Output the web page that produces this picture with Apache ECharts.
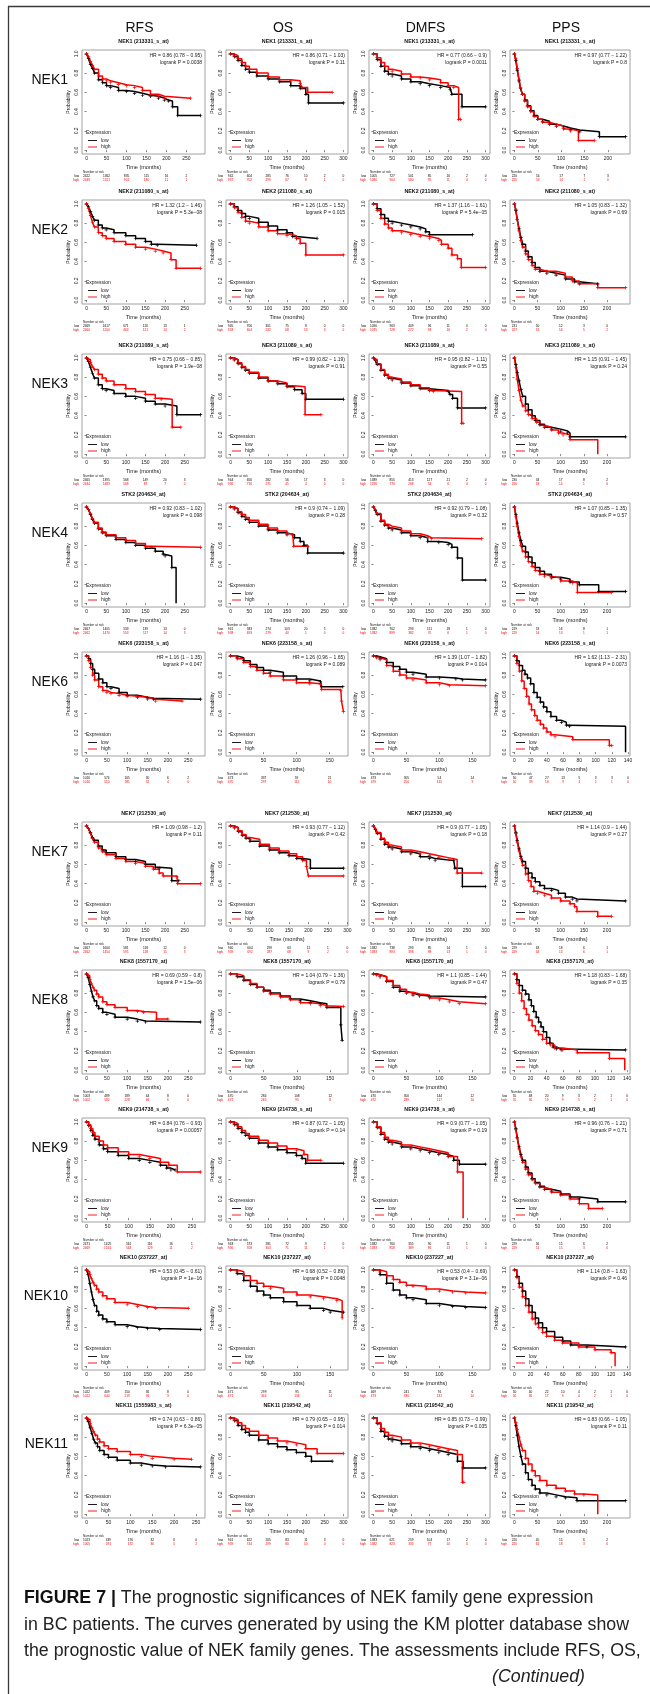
<!DOCTYPE html>
<html>
<head>
<meta charset="utf-8">
<style>
  html, body { margin: 0; padding: 0; background: #fff; }
  #main { width: 650px; height: 1694px; }
</style>
<script src="https://cdn.jsdelivr.net/npm/echarts@6/dist/echarts.min.js"></script>
</head>
<body>
<div id="main"></div>
<script>
// ---- labels ----
const genes = ['NEK1', 'NEK2', 'NEK3', 'NEK4', 'NEK6', 'NEK7', 'NEK8', 'NEK9', 'NEK10', 'NEK11'];
const endpoints = ['RFS', 'OS', 'DMFS', 'PPS'];
const probes = [
  ['NEK1 (213331_s_at)', 'NEK1 (213331_s_at)', 'NEK1 (213331_s_at)', 'NEK1 (213331_s_at)'],
  ['NEK2 (211080_s_at)', 'NEK2 (211080_s_at)', 'NEK2 (211080_s_at)', 'NEK2 (211080_s_at)'],
  ['NEK3 (211089_s_at)', 'NEK3 (211089_s_at)', 'NEK3 (211089_s_at)', 'NEK3 (211089_s_at)'],
  ['STK2 (204634_at)', 'STK2 (204634_at)', 'STK2 (204634_at)', 'STK2 (204634_at)'],
  ['NEK6 (223158_s_at)', 'NEK6 (223158_s_at)', 'NEK6 (223158_s_at)', 'NEK6 (223158_s_at)'],
  ['NEK7 (212530_at)', 'NEK7 (212530_at)', 'NEK7 (212530_at)', 'NEK7 (212530_at)'],
  ['NEK8 (1557170_at)', 'NEK8 (1557170_at)', 'NEK8 (1557170_at)', 'NEK8 (1557170_at)'],
  ['NEK9 (214738_s_at)', 'NEK9 (214738_s_at)', 'NEK9 (214738_s_at)', 'NEK9 (214738_s_at)'],
  ['NEK10 (237227_at)', 'NEK10 (237227_at)', 'NEK10 (237227_at)', 'NEK10 (237227_at)'],
  ['NEK11 (1555983_s_at)', 'NEK11 (219542_at)', 'NEK11 (219542_at)', 'NEK11 (219542_at)']
];
const hrTexts = [
  ['HR = 0.86 (0.78 \u2212 0.95)', 'HR = 0.86 (0.71 \u2212 1.03)', 'HR = 0.77 (0.66 \u2212 0.9)', 'HR = 0.97 (0.77 \u2212 1.22)'],
  ['HR = 1.32 (1.2 \u2212 1.46)', 'HR = 1.26 (1.05 \u2212 1.52)', 'HR = 1.37 (1.16 \u2212 1.61)', 'HR = 1.05 (0.83 \u2212 1.32)'],
  ['HR = 0.75 (0.66 \u2212 0.85)', 'HR = 0.99 (0.82 \u2212 1.19)', 'HR = 0.95 (0.82 \u2212 1.11)', 'HR = 1.15 (0.91 \u2212 1.45)'],
  ['HR = 0.92 (0.83 \u2212 1.02)', 'HR = 0.9 (0.74 \u2212 1.09)', 'HR = 0.92 (0.79 \u2212 1.08)', 'HR = 1.07 (0.85 \u2212 1.35)'],
  ['HR = 1.16 (1 \u2212 1.35)', 'HR = 1.26 (0.96 \u2212 1.65)', 'HR = 1.39 (1.07 \u2212 1.82)', 'HR = 1.62 (1.13 \u2212 2.31)'],
  ['HR = 1.09 (0.98 \u2212 1.2)', 'HR = 0.93 (0.77 \u2212 1.12)', 'HR = 0.9 (0.77 \u2212 1.05)', 'HR = 1.14 (0.9 \u2212 1.44)'],
  ['HR = 0.69 (0.59 \u2212 0.8)', 'HR = 1.04 (0.79 \u2212 1.36)', 'HR = 1.1 (0.85 \u2212 1.44)', 'HR = 1.18 (0.83 \u2212 1.68)'],
  ['HR = 0.84 (0.76 \u2212 0.93)', 'HR = 0.87 (0.72 \u2212 1.05)', 'HR = 0.9 (0.77 \u2212 1.05)', 'HR = 0.96 (0.76 \u2212 1.21)'],
  ['HR = 0.53 (0.45 \u2212 0.61)', 'HR = 0.68 (0.52 \u2212 0.89)', 'HR = 0.53 (0.4 \u2212 0.69)', 'HR = 1.14 (0.8 \u2212 1.63)'],
  ['HR = 0.74 (0.63 \u2212 0.86)', 'HR = 0.79 (0.65 \u2212 0.95)', 'HR = 0.85 (0.73 \u2212 0.99)', 'HR = 0.83 (0.66 \u2212 1.05)']
];
const pTexts = [
  ['logrank P = 0.0038', 'logrank P = 0.11', 'logrank P = 0.0011', 'logrank P = 0.8'],
  ['logrank P = 5.3e\u221208', 'logrank P = 0.015', 'logrank P = 5.4e\u221205', 'logrank P = 0.69'],
  ['logrank P = 1.9e\u221208', 'logrank P = 0.91', 'logrank P = 0.55', 'logrank P = 0.24'],
  ['logrank P = 0.098', 'logrank P = 0.28', 'logrank P = 0.32', 'logrank P = 0.57'],
  ['logrank P = 0.047', 'logrank P = 0.089', 'logrank P = 0.014', 'logrank P = 0.0073'],
  ['logrank P = 0.11', 'logrank P = 0.42', 'logrank P = 0.18', 'logrank P = 0.27'],
  ['logrank P = 1.5e\u221206', 'logrank P = 0.79', 'logrank P = 0.47', 'logrank P = 0.35'],
  ['logrank P = 0.00057', 'logrank P = 0.14', 'logrank P = 0.19', 'logrank P = 0.71'],
  ['logrank P = 1e\u221216', 'logrank P = 0.0048', 'logrank P = 3.1e\u221206', 'logrank P = 0.46'],
  ['logrank P = 6.3e\u221205', 'logrank P = 0.014', 'logrank P = 0.035', 'logrank P = 0.11']
];

// ---- x tick sets ----
const t250 = [0, 50, 100, 150, 200, 250];
const t300 = [0, 50, 100, 150, 200, 250, 300];
const t200 = [0, 50, 100, 150, 200];
const t150 = [0, 50, 100, 150];
const t140 = [0, 20, 40, 60, 80, 100, 120, 140];
const yTicks = [0, 0.2, 0.4, 0.6, 0.8, 1.0];
const xTickSets = [
  [t250, t300, t300, t200], [t250, t300, t300, t200], [t250, t300, t300, t200], [t250, t300, t300, t200],
  [t250, t150, t150, t140], [t250, t300, t300, t200], [t250, t150, t150, t140], [t250, t300, t300, t200],
  [t250, t150, t150, t140], [t250, t300, t300, t200]
];

// ---- survival curves [months, probability] ----
// NEK1
const n1RfsLo = [[0,1],[5,0.95],[10,0.89],[15,0.85],[20,0.80],[30,0.73],[40,0.70],[50,0.67],[60,0.65],[80,0.62],[100,0.61],[120,0.59],[140,0.57],[160,0.56],[180,0.54],[195,0.52],[205,0.51],[215,0.45],[228,0.36],[285,0.36]];
const n1RfsHi = [[0,1],[5,0.97],[10,0.92],[15,0.88],[20,0.84],[30,0.77],[40,0.74],[50,0.72],[60,0.70],[80,0.68],[100,0.67],[120,0.65],[140,0.62],[160,0.58],[180,0.56],[195,0.54],[260,0.54]];
const n1OsLo = [[0,1],[10,0.97],[20,0.93],[30,0.88],[40,0.84],[50,0.81],[70,0.77],[100,0.74],[130,0.71],[160,0.67],[185,0.64],[200,0.58],[207,0.49],[300,0.49]];
const n1OsHi = [[0,1],[10,0.98],[20,0.95],[30,0.91],[40,0.87],[50,0.84],[70,0.80],[100,0.76],[130,0.73],[160,0.72],[185,0.69],[190,0.65],[205,0.60],[270,0.60]];
const n1DmLo = [[0,1],[10,0.94],[20,0.87],[30,0.82],[40,0.79],[50,0.77],[75,0.74],[100,0.71],[125,0.69],[150,0.67],[180,0.65],[205,0.63],[210,0.58],[237,0.45],[300,0.45]];
const n1DmHi = [[0,1],[10,0.96],[20,0.91],[30,0.87],[40,0.84],[50,0.82],[75,0.79],[100,0.76],[125,0.75],[150,0.73],[180,0.70],[200,0.67],[215,0.65],[228,0.32],[233,0.32]];
const n1PpLo = [[0,1],[3,0.93],[6,0.83],[10,0.72],[13,0.64],[17,0.58],[22,0.52],[28,0.46],[35,0.41],[42,0.36],[50,0.32],[60,0.30],[75,0.27],[90,0.25],[105,0.23],[120,0.21],[140,0.19],[182,0.14],[238,0.14]];
const n1PpHi = [[0,1],[3,0.95],[6,0.85],[10,0.73],[13,0.65],[17,0.58],[22,0.51],[28,0.45],[35,0.40],[42,0.35],[50,0.32],[60,0.29],[75,0.27],[90,0.25],[105,0.22],[120,0.20],[137,0.10],[172,0.10]];
// NEK2
const n2RfsLo = [[0,1],[5,0.97],[10,0.92],[15,0.87],[20,0.83],[30,0.78],[40,0.75],[50,0.73],[70,0.70],[100,0.67],[125,0.64],[150,0.61],[165,0.58],[180,0.57],[280,0.57]];
const n2RfsHi = [[0,1],[5,0.95],[10,0.88],[15,0.81],[20,0.76],[30,0.70],[40,0.67],[50,0.64],[70,0.61],[100,0.58],[125,0.55],[150,0.53],[175,0.51],[195,0.49],[215,0.42],[228,0.33],[290,0.33]];
const n2OsLo = [[0,1],[10,0.97],[20,0.93],[30,0.90],[40,0.87],[50,0.85],[75,0.81],[100,0.77],[125,0.73],[150,0.70],[165,0.66],[175,0.64],[230,0.64]];
const n2OsHi = [[0,1],[10,0.96],[20,0.91],[30,0.86],[40,0.82],[50,0.80],[75,0.76],[100,0.72],[125,0.69],[150,0.67],[175,0.64],[185,0.59],[200,0.47],[300,0.47]];
const n2DmLo = [[0,1],[10,0.95],[20,0.89],[30,0.85],[40,0.82],[50,0.80],[75,0.78],[100,0.76],[125,0.74],[140,0.71],[150,0.68],[265,0.68]];
const n2DmHi = [[0,1],[10,0.93],[20,0.85],[30,0.79],[40,0.75],[50,0.72],[75,0.70],[100,0.68],[125,0.66],[150,0.64],[175,0.62],[182,0.58],[200,0.54],[210,0.47],[225,0.43],[235,0.34],[300,0.34]];
const n2PpLo = [[0,1],[3,0.93],[6,0.84],[10,0.74],[14,0.65],[18,0.58],[24,0.51],[30,0.45],[38,0.39],[45,0.34],[55,0.30],[70,0.28],[90,0.26],[110,0.22],[130,0.19],[140,0.17],[180,0.17]];
const n2PpHi = [[0,1],[3,0.94],[6,0.84],[10,0.72],[14,0.62],[18,0.55],[24,0.48],[30,0.42],[38,0.36],[45,0.32],[55,0.30],[70,0.30],[90,0.28],[110,0.24],[125,0.20],[140,0.17],[180,0.13],[240,0.13]];
// NEK3
const n3RfsLo = [[0,1],[5,0.96],[10,0.90],[15,0.84],[20,0.79],[30,0.72],[40,0.68],[50,0.66],[70,0.63],[100,0.60],[125,0.58],[150,0.55],[175,0.52],[200,0.50],[230,0.41],[290,0.41]];
const n3RfsHi = [[0,1],[5,0.98],[10,0.95],[15,0.91],[20,0.88],[30,0.83],[40,0.79],[50,0.76],[70,0.72],[100,0.68],[125,0.65],[150,0.62],[175,0.58],[190,0.57],[218,0.28],[240,0.28]];
const n3OsLo = [[0,1],[10,0.98],[20,0.94],[30,0.90],[40,0.87],[50,0.84],[75,0.79],[100,0.76],[125,0.73],[150,0.70],[170,0.67],[190,0.63],[200,0.57],[300,0.57]];
const n3OsHi = [[0,1],[10,0.98],[20,0.95],[30,0.91],[40,0.88],[50,0.85],[75,0.80],[100,0.76],[125,0.74],[150,0.71],[170,0.70],[198,0.41],[240,0.41]];
const n3DmLo = [[0,1],[5,0.97],[10,0.93],[20,0.87],[30,0.82],[40,0.79],[50,0.77],[75,0.74],[100,0.71],[125,0.68],[150,0.66],[200,0.65],[205,0.62],[212,0.58],[225,0.48],[300,0.48]];
const n3DmHi = [[0,1],[5,0.98],[10,0.94],[20,0.88],[30,0.83],[40,0.80],[50,0.78],[75,0.75],[100,0.72],[125,0.69],[150,0.66],[160,0.65],[236,0.32],[240,0.32]];
const n3PpLo = [[0,1],[3,0.93],[6,0.85],[10,0.76],[14,0.67],[18,0.60],[24,0.52],[30,0.46],[38,0.40],[45,0.35],[55,0.31],[65,0.28],[80,0.26],[100,0.24],[115,0.22],[120,0.18],[240,0.18]];
const n3PpHi = [[0,1],[3,0.90],[6,0.78],[10,0.66],[14,0.56],[18,0.50],[24,0.45],[30,0.41],[38,0.37],[48,0.33],[55,0.30],[65,0.28],[80,0.25],[95,0.22],[105,0.20],[120,0.15],[180,0]];
// NEK4 (STK2)
const n4RfsLo = [[0,1],[5,0.97],[10,0.92],[15,0.87],[20,0.83],[30,0.77],[40,0.73],[50,0.70],[75,0.66],[100,0.63],[125,0.60],[150,0.57],[175,0.54],[195,0.51],[200,0.49],[217,0.37],[228,0]];
const n4RfsHi = [[0,1],[5,0.97],[10,0.93],[15,0.88],[20,0.84],[30,0.78],[40,0.74],[50,0.71],[75,0.68],[100,0.65],[125,0.62],[150,0.59],[165,0.58],[290,0.58]];
const n4OsLo = [[0,1],[10,0.98],[20,0.94],[30,0.90],[40,0.87],[50,0.84],[75,0.80],[100,0.76],[125,0.73],[150,0.71],[170,0.68],[185,0.64],[195,0.60],[205,0.52],[300,0.52]];
const n4OsHi = [[0,1],[10,0.98],[20,0.95],[30,0.92],[40,0.89],[50,0.86],[75,0.82],[100,0.78],[125,0.75],[150,0.72],[165,0.70],[168,0.59],[205,0.59]];
const n4DmLo = [[0,1],[5,0.96],[10,0.92],[20,0.85],[30,0.81],[40,0.78],[50,0.76],[75,0.73],[100,0.70],[125,0.68],[145,0.64],[175,0.63],[200,0.61],[210,0.58],[225,0.47],[238,0.24],[300,0.24]];
const n4DmHi = [[0,1],[5,0.97],[10,0.93],[20,0.86],[30,0.82],[40,0.80],[50,0.78],[75,0.75],[100,0.72],[125,0.70],[145,0.68],[155,0.67],[290,0.67]];
const n4PpLo = [[0,1],[3,0.92],[6,0.83],[10,0.73],[14,0.65],[18,0.59],[24,0.53],[30,0.48],[38,0.42],[45,0.37],[55,0.33],[65,0.30],[80,0.27],[100,0.25],[120,0.22],[140,0.19],[182,0.12],[240,0.12]];
const n4PpHi = [[0,1],[3,0.90],[6,0.80],[10,0.69],[14,0.60],[18,0.54],[24,0.48],[30,0.43],[38,0.38],[45,0.34],[55,0.30],[65,0.28],[80,0.26],[100,0.23],[125,0.21],[136,0.11],[210,0.11]];
// NEK6
const n6RfsLo = [[0,1],[5,0.97],[10,0.92],[15,0.86],[20,0.82],[30,0.76],[40,0.72],[50,0.68],[60,0.66],[80,0.62],[100,0.59],[125,0.57],[150,0.56],[165,0.55],[280,0.55]];
const n6RfsHi = [[0,1],[5,0.95],[10,0.88],[15,0.80],[20,0.75],[30,0.68],[40,0.64],[50,0.62],[60,0.61],[80,0.59],[100,0.58],[125,0.57],[150,0.55],[170,0.53],[235,0.53]];
const n6OsLo = [[0,1],[10,0.98],[20,0.95],[30,0.91],[40,0.88],[50,0.85],[60,0.83],[80,0.79],[100,0.76],[120,0.74],[136,0.73],[138,0.68],[170,0.68]];
const n6OsHi = [[0,1],[10,0.97],[20,0.93],[30,0.89],[40,0.85],[50,0.82],[60,0.79],[80,0.75],[100,0.72],[120,0.71],[136,0.70],[138,0.65],[167,0.64],[168,0.53],[171,0.42]];
const n6DmLo = [[0,1],[5,0.99],[10,0.97],[20,0.93],[30,0.89],[40,0.86],[50,0.83],[60,0.81],[80,0.78],[100,0.77],[125,0.76],[135,0.75],[170,0.75]];
const n6DmHi = [[0,1],[5,0.98],[10,0.96],[20,0.90],[30,0.84],[40,0.80],[50,0.77],[60,0.75],[80,0.72],[100,0.70],[115,0.69],[170,0.69]];
const n6PpLo = [[0,1],[3,0.95],[6,0.90],[10,0.85],[13,0.81],[16,0.77],[20,0.71],[24,0.62],[28,0.57],[32,0.52],[36,0.47],[40,0.42],[45,0.37],[52,0.33],[58,0.31],[64,0.28],[68,0.27],[137,0]];
const n6PpHi = [[0,1],[3,0.92],[6,0.84],[9,0.74],[12,0.66],[15,0.58],[18,0.50],[21,0.44],[25,0.38],[28,0.33],[32,0.29],[36,0.25],[40,0.21],[45,0.18],[50,0.16],[72,0.13],[117,0.07],[120,0.07]];
// NEK7
const n7RfsLo = [[0,1],[5,0.97],[10,0.93],[15,0.88],[20,0.85],[30,0.79],[40,0.75],[50,0.72],[75,0.68],[100,0.65],[125,0.63],[150,0.60],[175,0.57],[185,0.56],[217,0.43],[235,0.43]];
const n7RfsHi = [[0,1],[5,0.97],[10,0.92],[15,0.87],[20,0.83],[30,0.77],[40,0.73],[50,0.70],[75,0.66],[100,0.63],[125,0.61],[150,0.58],[170,0.55],[185,0.51],[195,0.48],[230,0.47],[232,0.40],[290,0.40]];
const n7OsLo = [[0,1],[10,0.98],[20,0.94],[30,0.90],[40,0.87],[50,0.84],[75,0.79],[100,0.75],[125,0.72],[150,0.69],[170,0.66],[185,0.65],[205,0.56],[290,0.56]];
const n7OsHi = [[0,1],[10,0.98],[20,0.95],[30,0.91],[40,0.88],[50,0.86],[75,0.81],[100,0.77],[125,0.74],[150,0.71],[170,0.68],[185,0.64],[195,0.58],[200,0.48],[290,0.48]];
const n7DmLo = [[0,1],[5,0.96],[10,0.92],[20,0.86],[30,0.81],[40,0.78],[50,0.76],[75,0.73],[100,0.71],[125,0.68],[150,0.66],[165,0.64],[215,0.64],[218,0.56],[238,0.37],[300,0.37]];
const n7DmHi = [[0,1],[5,0.97],[10,0.93],[20,0.87],[30,0.83],[40,0.80],[50,0.78],[75,0.75],[100,0.73],[125,0.71],[150,0.69],[175,0.67],[200,0.65],[224,0.51],[290,0.51]];
const n7PpLo = [[0,1],[3,0.93],[6,0.85],[10,0.76],[14,0.68],[18,0.63],[24,0.56],[30,0.51],[38,0.46],[45,0.42],[55,0.38],[65,0.35],[80,0.33],[95,0.30],[110,0.26],[125,0.24],[135,0.22],[240,0.22]];
const n7PpHi = [[0,1],[3,0.92],[6,0.83],[10,0.74],[14,0.66],[18,0.59],[24,0.50],[30,0.43],[36,0.37],[42,0.32],[50,0.30],[65,0.28],[80,0.25],[100,0.22],[120,0.19],[130,0.16],[135,0.11],[180,0.06],[210,0.06]];
// NEK8
const n8RfsLo = [[0,1],[4,0.96],[8,0.89],[12,0.82],[16,0.76],[20,0.72],[25,0.67],[30,0.64],[40,0.60],[50,0.58],[70,0.55],[100,0.53],[125,0.51],[145,0.50],[280,0.50]];
const n8RfsHi = [[0,1],[4,0.98],[8,0.94],[12,0.90],[16,0.86],[20,0.83],[25,0.79],[30,0.76],[40,0.71],[50,0.68],[70,0.65],[100,0.62],[125,0.61],[140,0.60],[172,0.53],[200,0.53]];
const n8OsLo = [[0,1],[10,0.97],[20,0.93],[30,0.89],[40,0.86],[50,0.83],[60,0.80],[75,0.77],[90,0.74],[105,0.72],[120,0.70],[135,0.69],[145,0.65],[166,0.47],[168,0.31]];
const n8OsHi = [[0,1],[10,0.98],[20,0.94],[30,0.90],[40,0.86],[50,0.82],[60,0.79],[75,0.76],[90,0.73],[105,0.70],[120,0.69],[135,0.67],[145,0.66],[170,0.66]];
const n8DmLo = [[0,1],[5,0.99],[10,0.97],[20,0.92],[30,0.86],[40,0.82],[50,0.80],[60,0.78],[70,0.77],[85,0.76],[170,0.76]];
const n8DmHi = [[0,1],[5,0.99],[10,0.97],[20,0.93],[30,0.88],[40,0.84],[50,0.81],[60,0.79],[70,0.78],[85,0.75],[100,0.73],[115,0.71],[130,0.69],[170,0.69]];
const n8PpLo = [[0,1],[3,0.94],[6,0.88],[10,0.83],[14,0.79],[18,0.73],[21,0.67],[24,0.61],[27,0.55],[30,0.50],[33,0.45],[36,0.40],[40,0.34],[44,0.28],[48,0.24],[52,0.22],[58,0.21],[138,0.21]];
const n8PpHi = [[0,1],[3,0.90],[6,0.80],[9,0.72],[12,0.64],[15,0.58],[18,0.52],[22,0.46],[26,0.41],[30,0.37],[35,0.32],[40,0.28],[45,0.26],[50,0.23],[60,0.21],[78,0.18],[118,0.12],[137,0]];
// NEK9
const n9RfsLo = [[0,1],[5,0.96],[10,0.91],[15,0.86],[20,0.82],[30,0.76],[40,0.72],[50,0.69],[75,0.65],[100,0.62],[125,0.60],[150,0.58],[175,0.55],[190,0.52],[200,0.50],[210,0.50]];
const n9RfsHi = [[0,1],[5,0.97],[10,0.93],[15,0.89],[20,0.85],[30,0.80],[40,0.76],[50,0.73],[75,0.69],[100,0.66],[125,0.64],[150,0.62],[175,0.58],[195,0.55],[215,0.48],[270,0.48]];
const n9OsLo = [[0,1],[10,0.97],[20,0.93],[30,0.89],[40,0.86],[50,0.83],[75,0.78],[100,0.74],[125,0.71],[150,0.68],[175,0.65],[190,0.62],[200,0.57],[300,0.57]];
const n9OsHi = [[0,1],[10,0.98],[20,0.95],[30,0.91],[40,0.88],[50,0.85],[75,0.81],[100,0.78],[125,0.75],[150,0.72],[175,0.70],[195,0.66],[205,0.60],[240,0.60]];
const n9DmLo = [[0,1],[10,0.94],[20,0.87],[30,0.82],[40,0.79],[50,0.77],[75,0.74],[100,0.72],[125,0.70],[150,0.68],[175,0.66],[200,0.64],[215,0.60],[230,0.56],[300,0.56]];
const n9DmHi = [[0,1],[10,0.95],[20,0.89],[30,0.84],[40,0.81],[50,0.79],[75,0.76],[100,0.74],[125,0.72],[150,0.70],[175,0.68],[200,0.64],[225,0.48],[240,0]];
const n9PpLo = [[0,1],[3,0.93],[6,0.84],[10,0.74],[14,0.66],[18,0.60],[24,0.53],[30,0.47],[38,0.41],[45,0.37],[55,0.33],[65,0.30],[80,0.28],[100,0.25],[120,0.22],[140,0.20],[180,0.17],[240,0.17]];
const n9PpHi = [[0,1],[3,0.92],[6,0.83],[10,0.72],[14,0.64],[18,0.58],[24,0.51],[30,0.45],[38,0.40],[45,0.36],[55,0.32],[65,0.30],[80,0.27],[100,0.24],[120,0.20],[140,0.15],[160,0.10],[190,0.10]];
// NEK10
const n10RfsLo = [[0,1],[4,0.95],[8,0.86],[12,0.77],[16,0.69],[20,0.63],[25,0.57],[30,0.53],[40,0.49],[50,0.46],[70,0.43],[100,0.41],[125,0.40],[150,0.39],[180,0.38],[280,0.38]];
const n10RfsHi = [[0,1],[4,0.98],[8,0.95],[12,0.91],[16,0.87],[20,0.84],[25,0.80],[30,0.77],[40,0.73],[50,0.70],[70,0.66],[100,0.64],[125,0.62],[150,0.61],[170,0.60],[250,0.60]];
const n10OsLo = [[0,1],[10,0.96],[20,0.89],[30,0.83],[40,0.78],[50,0.74],[60,0.71],[80,0.67],[100,0.63],[120,0.60],[140,0.58],[150,0.56],[170,0.56]];
const n10OsHi = [[0,1],[10,0.98],[20,0.94],[30,0.89],[40,0.86],[50,0.83],[60,0.81],[80,0.77],[100,0.74],[120,0.72],[140,0.70],[160,0.68],[168,0.50]];
const n10DmLo = [[0,1],[10,0.95],[20,0.86],[30,0.79],[40,0.74],[50,0.71],[60,0.69],[80,0.65],[100,0.63],[120,0.62],[140,0.61],[170,0.61]];
const n10DmHi = [[0,1],[10,0.98],[20,0.94],[30,0.90],[40,0.87],[50,0.84],[60,0.83],[80,0.80],[100,0.78],[120,0.77],[140,0.76],[170,0.76]];
const n10PpLo = [[0,1],[3,0.93],[6,0.86],[10,0.78],[14,0.70],[18,0.63],[22,0.56],[26,0.50],[30,0.45],[35,0.40],[40,0.36],[50,0.30],[60,0.26],[70,0.22],[90,0.20],[138,0.20]];
const n10PpHi = [[0,1],[3,0.92],[6,0.82],[10,0.72],[14,0.63],[18,0.56],[22,0.49],[26,0.44],[30,0.40],[35,0.35],[40,0.31],[50,0.27],[60,0.24],[80,0.20],[100,0.17],[120,0.14],[125,0]];
// NEK11
const n11RfsLo = [[0,1],[4,0.96],[8,0.90],[12,0.84],[16,0.78],[20,0.74],[25,0.70],[30,0.66],[40,0.62],[50,0.59],[70,0.56],[100,0.53],[125,0.51],[150,0.50],[180,0.49],[260,0.49]];
const n11RfsHi = [[0,1],[4,0.98],[8,0.94],[12,0.90],[16,0.86],[20,0.82],[25,0.78],[30,0.75],[40,0.71],[50,0.68],[70,0.65],[100,0.62],[125,0.60],[150,0.58],[200,0.57],[240,0.57]];
const n11OsLo = [[0,1],[10,0.97],[20,0.92],[30,0.88],[40,0.85],[50,0.82],[75,0.77],[100,0.73],[125,0.70],[150,0.67],[175,0.64],[200,0.60],[215,0.55],[270,0.55]];
const n11OsHi = [[0,1],[10,0.98],[20,0.95],[30,0.92],[40,0.89],[50,0.86],[75,0.82],[100,0.79],[125,0.76],[150,0.74],[175,0.72],[200,0.68],[230,0.63],[300,0.63]];
const n11DmLo = [[0,1],[10,0.94],[20,0.86],[30,0.81],[40,0.78],[50,0.76],[75,0.73],[100,0.70],[125,0.68],[150,0.66],[175,0.64],[200,0.62],[225,0.55],[240,0.48],[300,0.48]];
const n11DmHi = [[0,1],[10,0.95],[20,0.89],[30,0.85],[40,0.82],[50,0.80],[75,0.77],[100,0.74],[125,0.72],[150,0.70],[175,0.68],[200,0.66],[225,0.62],[238,0.33],[242,0.33]];
const n11PpLo = [[0,1],[3,0.92],[6,0.82],[10,0.70],[14,0.60],[18,0.52],[24,0.43],[30,0.36],[38,0.30],[45,0.26],[55,0.22],[70,0.20],[90,0.18],[110,0.17],[135,0.14],[240,0.14]];
const n11PpHi = [[0,1],[3,0.95],[6,0.88],[10,0.80],[14,0.72],[18,0.66],[24,0.58],[30,0.52],[38,0.45],[45,0.40],[55,0.35],[70,0.30],[90,0.27],[110,0.24],[130,0.21],[150,0.20],[180,0]];

const lowCurves = [
  [n1RfsLo, n1OsLo, n1DmLo, n1PpLo], [n2RfsLo, n2OsLo, n2DmLo, n2PpLo], [n3RfsLo, n3OsLo, n3DmLo, n3PpLo],
  [n4RfsLo, n4OsLo, n4DmLo, n4PpLo], [n6RfsLo, n6OsLo, n6DmLo, n6PpLo], [n7RfsLo, n7OsLo, n7DmLo, n7PpLo],
  [n8RfsLo, n8OsLo, n8DmLo, n8PpLo], [n9RfsLo, n9OsLo, n9DmLo, n9PpLo], [n10RfsLo, n10OsLo, n10DmLo, n10PpLo],
  [n11RfsLo, n11OsLo, n11DmLo, n11PpLo]
];
const highCurves = [
  [n1RfsHi, n1OsHi, n1DmHi, n1PpHi], [n2RfsHi, n2OsHi, n2DmHi, n2PpHi], [n3RfsHi, n3OsHi, n3DmHi, n3PpHi],
  [n4RfsHi, n4OsHi, n4DmHi, n4PpHi], [n6RfsHi, n6OsHi, n6DmHi, n6PpHi], [n7RfsHi, n7OsHi, n7DmHi, n7PpHi],
  [n8RfsHi, n8OsHi, n8DmHi, n8PpHi], [n9RfsHi, n9OsHi, n9DmHi, n9PpHi], [n10RfsHi, n10OsHi, n10DmHi, n10PpHi],
  [n11RfsHi, n11OsHi, n11DmHi, n11PpHi]
];

// ---- number at risk (low / high), one value per x tick ----
const riskLow = [
  [[2422,1362,835,115,16,2], [942,604,285,76,10,2,0], [1005,727,501,85,16,2,0], [220,54,17,7,3]],
  [[2469,1617,671,126,13,1], [945,706,301,75,8,0,0], [1090,963,409,96,11,0,0], [231,50,12,3,0]],
  [[2465,1395,568,149,20,3], [944,656,282,56,17,3,0], [1389,855,413,127,21,2,0], [230,34,17,8,2]],
  [[2467,1405,533,139,13,0], [941,583,274,103,20,5,0], [1382,762,293,111,18,1,0], [229,53,16,8,1]],
  [[1016,574,165,30,6,2], [473,337,59,21], [473,305,54,14], [50,47,27,13,5,3,3,0]],
  [[2467,1600,581,118,12,0], [940,604,299,63,12,1,0], [1382,738,293,85,14,1,0], [229,63,18,6,1]],
  [[1003,489,189,44,8,0], [470,284,108,12], [470,300,144,12], [55,48,20,9,3,2,1,0]],
  [[2471,1425,561,116,16,1], [943,573,281,72,9,2,0], [1382,760,355,90,11,1,0], [229,56,15,6,2]],
  [[1022,409,150,36,8,0], [471,299,95,11], [469,241,76,6], [50,40,22,10,4,2,1,0]],
  [[1023,439,176,32,6,0], [941,622,265,83,11,3,0], [1383,621,259,104,17,2,0], [220,45,15,6,2]]
];
const riskHigh = [
  [[2449,1521,901,130,11,1], [937,702,299,67,8,1,0], [1080,904,580,95,11,0,0], [225,53,14,2,0]],
  [[2460,1200,463,121,14,2], [933,604,232,68,13,3,0], [1075,728,272,93,16,2,0], [227,51,16,5,2]],
  [[2444,1483,568,87,7,0], [936,716,271,45,4,0,0], [1376,776,268,54,6,0,0], [226,53,14,1,0]],
  [[2462,1470,553,117,14,3], [938,693,279,40,1,0,0], [1382,899,382,70,6,1,0], [229,54,13,1,1]],
  [[1016,510,181,32,4,0], [470,297,111,10], [479,250,115,9], [50,39,16,9,4,2,1,0]],
  [[2462,1454,595,128,15,3], [939,692,287,68,9,2,0], [1383,893,398,98,13,1,0], [229,44,13,6,1]],
  [[1002,582,228,46,6,0], [472,265,95,8], [472,289,117,10], [55,36,19,9,5,2,1,0]],
  [[2469,1541,563,129,11,2], [936,708,303,71,11,1,0], [1383,858,389,96,13,1,0], [229,51,15,3,0]],
  [[1022,640,219,36,3,0], [471,344,136,14], [473,330,131,10], [50,36,17,9,4,2,1,0]],
  [[1005,591,172,36,5,2], [939,744,299,80,10,0,0], [1382,823,333,77,10,0,0], [220,61,18,3,0]]
];

// ---- layout ----
const COL_X = [[82, 205], [226, 348], [369, 490], [510, 630]];
const ROW_T = [42, 192, 346, 495, 644, 814, 962, 1110, 1258, 1406];
const FONT = 'Liberation Sans';
const PLUS = 'path://M4,0H6V4H10V6H6V10H4V6H0V4H4Z';
const LOW_COLOR = '#000000';
const HIGH_COLOR = '#ff0000';

const chart = echarts.init(document.getElementById('main'));

const grids = [], xAxes = [], yAxes = [], series = [];
const panels = [];

function curveData(curve) {
  return curve.map(p => p[1] === 0 ? { value: p, symbol: 'none' } : p);
}

genes.forEach((gene, r) => {
  endpoints.forEach((ep, c) => {
    const idx = grids.length;
    const low = lowCurves[r][c];
    const high = highCurves[r][c];
    const tMax = Math.max(low[low.length - 1][0], high[high.length - 1][0]);
    const ticks = xTickSets[r][c];
    const [L, R] = COL_X[c];
    const top = ROW_T[r] + 8;
    const bottom = ROW_T[r] + 112;
    panels.push({ idx, r, c, L, R, top, bottom, ticks });

    grids.push({
      left: L, top: top, width: R - L, height: bottom - top,
      show: true, borderColor: '#8a8a8a', borderWidth: 0.8, backgroundColor: 'transparent'
    });
    xAxes.push({
      gridIndex: idx, type: 'value', min: -0.04 * tMax, max: 1.04 * tMax,
      splitLine: { show: false }, axisLine: { show: false },
      axisTick: { show: true, customValues: ticks, length: 2, lineStyle: { color: '#333', width: 0.6 } },
      axisLabel: { customValues: ticks, fontSize: 5, margin: 2.5, color: '#222', fontFamily: FONT, formatter: v => String(v) },
      name: 'Time (months)', nameLocation: 'middle', nameGap: 10.5,
      nameTextStyle: { fontSize: 5.5, color: '#222', fontFamily: FONT }
    });
    yAxes.push({
      gridIndex: idx, type: 'value', min: -0.04, max: 1.04,
      splitLine: { show: false }, axisLine: { show: false },
      axisTick: { show: true, customValues: yTicks, length: 2, lineStyle: { color: '#333', width: 0.6 } },
      axisLabel: { customValues: yTicks, rotate: 90, fontSize: 5, margin: 2.5, color: '#222', fontFamily: FONT, formatter: v => v.toFixed(1) },
      name: 'Probability', nameLocation: 'middle', nameGap: 11,
      nameTextStyle: { fontSize: 5, color: '#222', fontFamily: FONT }
    });
    [[low, LOW_COLOR], [high, HIGH_COLOR]].forEach(([curve, color]) => {
      series.push({
        type: 'line', xAxisIndex: idx, yAxisIndex: idx, step: 'end',
        data: curveData(curve), symbol: PLUS, symbolSize: 3.5, showSymbol: true,
        lineStyle: { color: color, width: 1.5 }, itemStyle: { color: color },
        silent: true, animation: false
      });
    });
  });
});

chart.setOption({
  animation: false,
  backgroundColor: '#ffffff',
  grid: grids, xAxis: xAxes, yAxis: yAxes, series: series
});

// ---- annotations ----
const graphics = [];
function txt(x, y, text, opts) {
  graphics.push({
    type: 'text', x: x, y: y, silent: true,
    style: Object.assign({ text: text, fontFamily: FONT, fontSize: 5, fill: '#222', align: 'left', verticalAlign: 'middle' }, opts || {})
  });
}
function seg(x1, y1, x2, y2, color, w) {
  graphics.push({ type: 'line', silent: true, shape: { x1, y1, x2, y2 }, style: { stroke: color, lineWidth: w } });
}

// frame
seg(8, 6.5, 650, 6.5, '#3a3a3a', 1.3);
seg(8.5, 6, 8.5, 1694, '#3a3a3a', 1.3);

// column headers
endpoints.forEach((ep, c) => {
  txt((COL_X[c][0] + COL_X[c][1]) / 2 - 4, 28, ep, { fontSize: 14, fill: '#111', align: 'center' });
});
// row labels
genes.forEach((g, r) => {
  txt(68, ROW_T[r] + 38, g, { fontSize: 14, fill: '#111', align: 'right' });
});

panels.forEach(p => {
  const { idx, r, c, L, R, top, bottom, ticks } = p;
  const T = ROW_T[r];
  txt((L + R) / 2, T, probes[r][c], { fontSize: 5.3, fontWeight: 'bold', fill: '#111', align: 'center' });
  txt(R - 3, top + 6, hrTexts[r][c], { align: 'right' });
  txt(R - 3, top + 13, pTexts[r][c], { align: 'right' });
  // legend
  txt(L + 4, bottom - 21, 'Expression', { fontSize: 5 });
  seg(L + 6, bottom - 13.5, L + 15, bottom - 13.5, LOW_COLOR, 0.9);
  seg(L + 6, bottom - 7, L + 15, bottom - 7, HIGH_COLOR, 0.9);
  txt(L + 19, bottom - 13.5, 'low', { fontSize: 5 });
  txt(L + 19, bottom - 7, 'high', { fontSize: 5 });
  // number at risk
  txt(L + 1, T + 130.5, 'Number at risk', { fontSize: 3.2 });
  txt(L - 3, T + 134.5, 'low', { fontSize: 3.2, align: 'right', fill: '#000' });
  txt(L - 3, T + 138.5, 'high', { fontSize: 3.2, align: 'right', fill: HIGH_COLOR });
  ticks.forEach((t, k) => {
    const x = chart.convertToPixel({ xAxisIndex: idx }, t);
    txt(x, T + 134.5, String(riskLow[r][c][k]), { fontSize: 3.2, align: 'center', fill: '#000' });
    txt(x, T + 138.5, String(riskHigh[r][c][k]), { fontSize: 3.2, align: 'center', fill: HIGH_COLOR });
  });
});

// ---- caption ----
const capLines = [
  'The prognostic significances of NEK family gene expression',
  'in BC patients. The curves generated by using the KM plotter database show',
  'the prognostic value of NEK family genes. The assessments include RFS, OS,'
];
const capFont = 18;
const ctx = document.createElement('canvas').getContext('2d');
ctx.font = capFont + 'px "' + FONT + '"';
const capScale = 605 / ctx.measureText(capLines[1]).width;
const capY = [1598, 1625, 1651];
capLines.forEach((line, i) => {
  const text = i === 0 ? '{b|FIGURE 7 |} ' + line : line;
  graphics.push({
    type: 'text', x: 24, y: capY[i], scaleX: capScale, silent: true,
    style: {
      text: text, fontFamily: FONT, fontSize: capFont, fill: '#222', verticalAlign: 'middle',
      rich: { b: { fontFamily: FONT, fontSize: capFont, fontWeight: 'bold', fill: '#111' } }
    }
  });
});
graphics.push({
  type: 'text', x: 585, y: 1677, scaleX: capScale, silent: true,
  style: { text: '(Continued)', fontFamily: FONT, fontSize: capFont, fontStyle: 'italic', fill: '#222', align: 'right', verticalAlign: 'middle' }
});

chart.setOption({ graphic: graphics });
</script>
</body>
</html>
